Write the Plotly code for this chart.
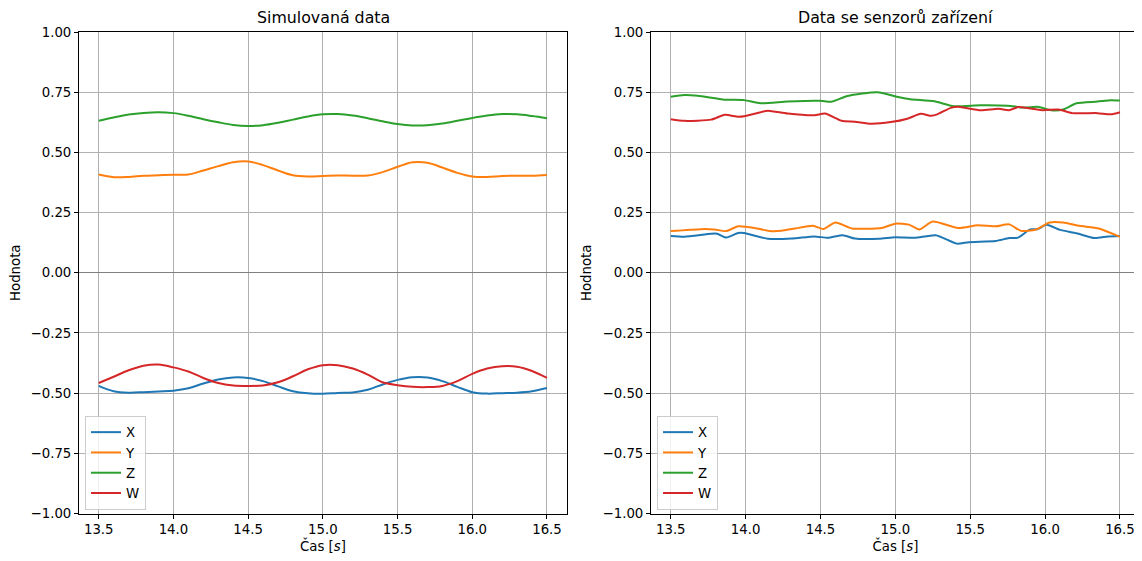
import plotly.graph_objects as go

# ---------------- data ----------------
sim_t = [13.5, 13.6, 13.7, 13.8, 13.9, 14.0, 14.1, 14.2, 14.3, 14.4, 14.5,
         14.6, 14.7, 14.8, 14.9, 15.0, 15.1, 15.2, 15.3, 15.4, 15.5,
         15.6, 15.7, 15.8, 15.9, 16.0, 16.1, 16.2, 16.3, 16.4, 16.5]
sim_x = [-0.470, -0.492, -0.498, -0.496, -0.493, -0.490, -0.480, -0.460, -0.443, -0.435, -0.437,
         -0.450, -0.472, -0.492, -0.501, -0.503, -0.499, -0.497, -0.486, -0.464, -0.445,
         -0.434, -0.435, -0.450, -0.474, -0.496, -0.502, -0.500, -0.498, -0.492, -0.479]
sim_y = [0.408, 0.397, 0.398, 0.403, 0.405, 0.407, 0.408, 0.425, 0.443, 0.459, 0.462,
         0.447, 0.425, 0.405, 0.400, 0.402, 0.404, 0.403, 0.404, 0.418, 0.440,
         0.459, 0.457, 0.437, 0.415, 0.400, 0.398, 0.402, 0.403, 0.403, 0.406]
sim_z = [0.631, 0.645, 0.657, 0.664, 0.667, 0.663, 0.652, 0.638, 0.625, 0.614, 0.610,
         0.613, 0.623, 0.636, 0.649, 0.658, 0.659, 0.653, 0.642, 0.629, 0.618,
         0.612, 0.613, 0.620, 0.631, 0.643, 0.653, 0.659, 0.658, 0.651, 0.642]
sim_w = [-0.458, -0.432, -0.405, -0.386, -0.381, -0.393, -0.410, -0.437, -0.458, -0.468, -0.470,
         -0.468, -0.455, -0.430, -0.401, -0.384, -0.384, -0.398, -0.423, -0.455, -0.467,
         -0.474, -0.475, -0.470, -0.450, -0.420, -0.398, -0.388, -0.390, -0.408, -0.437]

dev_x_t = [13.5, 13.59, 13.77, 13.81, 13.87, 13.95, 13.99, 14.15, 14.31, 14.46, 14.55, 14.65,
           14.73, 14.89, 15.0, 15.13, 15.27, 15.41, 15.49, 15.67, 15.76, 15.82, 15.9, 15.95,
           16.01, 16.1, 16.21, 16.33, 16.42, 16.5]
dev_x = [0.153, 0.150, 0.162, 0.162, 0.146, 0.165, 0.165, 0.141, 0.142, 0.151, 0.145, 0.156,
         0.142, 0.141, 0.147, 0.145, 0.156, 0.121, 0.127, 0.132, 0.144, 0.146, 0.180, 0.181,
         0.199, 0.178, 0.164, 0.144, 0.151, 0.153]

dev_y_t = [13.5, 13.7, 13.79, 13.87, 13.95, 14.06, 14.16, 14.24, 14.33, 14.45, 14.52, 14.6,
           14.71, 14.87, 14.91, 15.0, 15.09, 15.16, 15.25, 15.42, 15.55, 15.67, 15.76, 15.84,
           15.94, 16.03, 16.12, 16.23, 16.36, 16.5]
dev_y = [0.173, 0.181, 0.180, 0.173, 0.193, 0.186, 0.173, 0.174, 0.184, 0.195, 0.182, 0.209,
         0.184, 0.184, 0.186, 0.204, 0.200, 0.180, 0.213, 0.186, 0.197, 0.193, 0.201, 0.174,
         0.180, 0.209, 0.209, 0.195, 0.184, 0.149]

dev_z_t = [13.5, 13.59, 13.68, 13.86, 13.99, 14.1, 14.28, 14.5, 14.57, 14.68, 14.88, 15.01,
           15.1, 15.26, 15.39, 15.57, 15.75, 15.86, 15.95, 16.04, 16.12, 16.21, 16.35, 16.44, 16.5]
dev_z = [0.731, 0.738, 0.735, 0.719, 0.717, 0.704, 0.711, 0.714, 0.710, 0.734, 0.750, 0.731,
         0.721, 0.712, 0.692, 0.696, 0.694, 0.686, 0.689, 0.675, 0.678, 0.704, 0.711, 0.717, 0.715]

dev_w_t = [13.5, 13.59, 13.77, 13.86, 13.95, 13.99, 14.1, 14.15, 14.28, 14.46, 14.53, 14.64,
           14.73, 14.84, 14.97, 15.08, 15.17, 15.24, 15.28, 15.37, 15.42, 15.57, 15.69, 15.76,
           15.82, 15.98, 16.09, 16.18, 16.35, 16.44, 16.5]
dev_w = [0.638, 0.631, 0.636, 0.656, 0.648, 0.650, 0.667, 0.673, 0.661, 0.654, 0.661, 0.631,
         0.627, 0.619, 0.626, 0.640, 0.660, 0.652, 0.658, 0.685, 0.689, 0.675, 0.681, 0.675,
         0.688, 0.675, 0.678, 0.663, 0.663, 0.658, 0.667]

series_names = ["X", "Y", "Z", "W"]
colors = ["#1f77b4", "#ff7f0e", "#2ca02c", "#d62728"]
titles = ["Simulovaná data", "Data se senzorů zařízení"]
y_ticks = [-1.0, -0.75, -0.5, -0.25, 0.0, 0.25, 0.5, 0.75, 1.0]
x_ticks = [13.5, 14.0, 14.5, 15.0, 15.5, 16.0, 16.5]

# ---------------- figure ----------------
fig = go.Figure()
FONT = "DejaVu Sans"
FS = 13.3      # tick / label / legend font size
FS_T = 15.8    # title font size

sim_vals = [sim_x, sim_y, sim_z, sim_w]
for name, vals, c in zip(series_names, sim_vals, colors):
    fig.add_trace(go.Scatter(x=sim_t, y=vals, name=name, mode="lines",
                             line=dict(color=c, width=2, shape="spline", smoothing=1.0),
                             xaxis="x", yaxis="y", legend="legend"))

dev_series = [(dev_x_t, dev_x), (dev_y_t, dev_y), (dev_z_t, dev_z), (dev_w_t, dev_w)]
for name, (tt, vals), c in zip(series_names, dev_series, colors):
    fig.add_trace(go.Scatter(x=tt, y=vals, name=name, mode="lines",
                             line=dict(color=c, width=2, shape="spline", smoothing=0.6),
                             xaxis="x2", yaxis="y2", legend="legend2"))

# page body has an 8px margin: size the figure so it fills the 1142x561 window
OFF = 8
W, H = 1142 - OFF, 561 - OFF


def px(v):
    return (v - OFF) / W


def py(v):
    return 1 - (v - OFF) / H


dom_y = [py(513.5), py(32)]
dom_x1 = [px(79), px(567)]
dom_x2 = [px(651), px(1140)]

axis_common = dict(showline=True, linecolor="black", linewidth=1, mirror=True,
                   ticks="outside", ticklen=4, tickcolor="black", tickwidth=1,
                   showgrid=True, gridcolor="#b0b0b0", gridwidth=0.8, automargin=False,
                   tickfont=dict(family=FONT, size=FS, color="black"))

xr = [13.368, 16.634]
fig.update_layout(
    template="none",
    width=W, height=H,
    margin=dict(l=0, r=0, t=0, b=0, pad=0),
    paper_bgcolor="white", plot_bgcolor="white",
    font=dict(family=FONT, size=FS, color="black"),
    xaxis=dict(domain=dom_x1, range=xr, tickvals=x_ticks, tickformat=".1f",
               title=dict(text="Čas [<i>s</i>]", standoff=5, font=dict(size=FS)),
               anchor="y", zeroline=False, **axis_common),
    yaxis=dict(domain=dom_y, range=[-1, 1], tickvals=y_ticks, tickformat=".2f",
               title=dict(text="Hodnota", standoff=7, font=dict(size=FS)),
               anchor="x", zeroline=True, zerolinecolor="#808080", zerolinewidth=1.2,
               **axis_common),
    xaxis2=dict(domain=dom_x2, range=xr, tickvals=x_ticks, tickformat=".1f",
                title=dict(text="Čas [<i>s</i>]", standoff=5, font=dict(size=FS)),
                anchor="y2", zeroline=False, **axis_common),
    yaxis2=dict(domain=dom_y, range=[-1, 1], tickvals=y_ticks, tickformat=".2f",
                title=dict(text="Hodnota", standoff=7, font=dict(size=FS)),
                anchor="x2", zeroline=True, zerolinecolor="#808080", zerolinewidth=1.2,
                **axis_common),
    legend=dict(x=px(85), y=py(510), xanchor="left", yanchor="bottom",
                bgcolor="rgba(255,255,255,0.8)", bordercolor="#cccccc", borderwidth=1,
                font=dict(family=FONT, size=FS), itemwidth=30, tracegroupgap=0),
    legend2=dict(x=px(657), y=py(510), xanchor="left", yanchor="bottom",
                 bgcolor="rgba(255,255,255,0.8)", bordercolor="#cccccc", borderwidth=1,
                 font=dict(family=FONT, size=FS), itemwidth=30, tracegroupgap=0),
    annotations=[
        dict(text=titles[0], x=(dom_x1[0] + dom_x1[1]) / 2, y=py(18), xref="paper",
             yref="paper", showarrow=False, font=dict(family=FONT, size=FS_T),
             xanchor="center", yanchor="middle"),
        dict(text=titles[1], x=(dom_x2[0] + dom_x2[1]) / 2, y=py(18), xref="paper",
             yref="paper", showarrow=False, font=dict(family=FONT, size=FS_T),
             xanchor="center", yanchor="middle"),
    ],
)

fig.write_html("out.html")
